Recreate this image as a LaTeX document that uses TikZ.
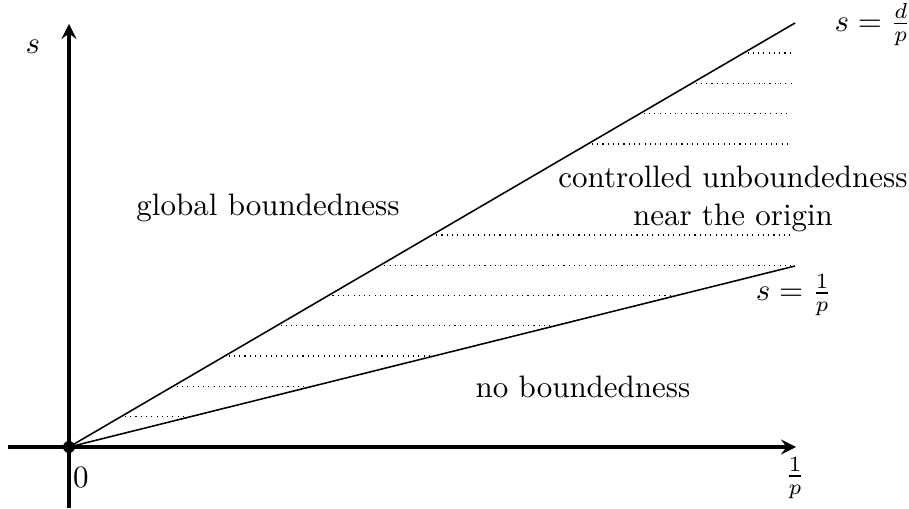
\documentclass[tikz,border=0pt]{standalone}
\usetikzlibrary{arrows}
\begin{document}
\begin{tikzpicture}[x=0.3226pt,y=0.3226pt,>=stealth,
  axis/.style={line width=1.1pt},
  bound/.style={line width=0.5pt},
  hatch/.style={line width=0.4pt,dash pattern=on 0.35pt off 1.35pt}]
  \useasboundingbox (-69,-61) rectangle (840,447);
  \coordinate (o) at (0,0);
  \coordinate (xl) at (-61,0);
  \coordinate (xr) at (727,0);
  \coordinate (yb) at (0,-61);
  \coordinate (yt) at (0,423);
  \coordinate (dtop) at (726,424);
  \coordinate (one) at (726,181);

  % hatching between the two lines
  \foreach \k in {1,2,3,4,5,6,7,10,11,12,13} {
    \pgfmathsetmacro{\yy}{30.3*\k}
    \pgfmathsetmacro{\xa}{\yy/0.584+4}
    \pgfmathsetmacro{\xb}{min(\yy/0.2493-4,722)}
    \draw[hatch] (\xa,\yy) -- (\xb,\yy);
  }

  \draw[bound] (o) -- (dtop);
  \draw[bound] (o) -- (one);
  \draw[axis,->] (xl) -- (xr);
  \draw[axis,->] (yb) -- (yt);
  \fill (o) circle (6);

  \node (zero) at (12,-31) {$0$};
  \node (slab) at (-36,400) {$s$};
  \node (xlab) at (726,-31) {$\frac{1}{p}$};
  \node[anchor=west,inner sep=1pt] (dlab) at (762,422) {$s=\frac{d}{p}$};
  \node[inner sep=1pt] (olab) at (725,152) {$s=\frac{1}{p}$};
  \node (glob) at (199,239) {global boundedness};
  \node[align=center,inner sep=1pt] (ctrl) at (664,248) {controlled unboundedness\\near the origin};
  \node (none) at (514,60) {no boundedness};
\end{tikzpicture}
\end{document}
